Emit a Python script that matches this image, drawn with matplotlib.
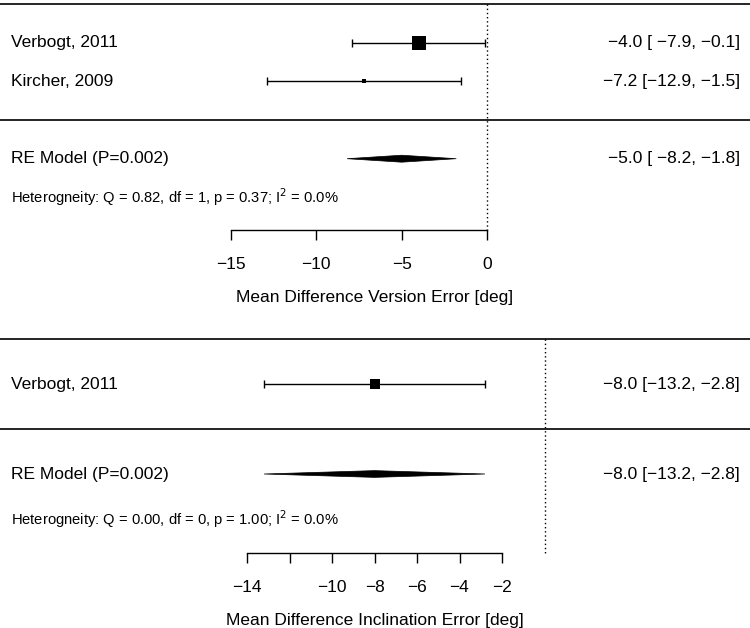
import numpy as np
import matplotlib
matplotlib.use("Agg")
import matplotlib.pyplot as plt

plt.rcParams['font.family'] = ['Liberation Sans', 'DejaVu Sans']

# panel 1: version error
v_studies = ["Verbogt, 2011", "Kircher, 2009"]
v_est = [-4.0, -7.2]
v_lo = [-7.9, -12.9]
v_hi = [-0.1, -1.5]
v_re = (-5.0, -8.2, -1.8)
v_re_label = "RE Model (P=0.002)"
v_het = "Heterogneity: Q = 0.82, df = 1, p = 0.37; I$^2$ = 0.0%"
v_ticks = [-15, -10, -5, 0]
v_tick_labels = ["\u221215", "\u221210", "\u22125", "0"]
v_xlabel = "Mean Difference Version Error [deg]"

# panel 2: inclination error
i_studies = ["Verbogt, 2011"]
i_est = [-8.0]
i_lo = [-13.2]
i_hi = [-2.8]
i_re = (-8.0, -13.2, -2.8)
i_re_label = "RE Model (P=0.002)"
i_het = "Heterogneity: Q = 0.00, df = 0, p = 1.00; I$^2$ = 0.0%"
i_ticks = [-14, -12, -10, -8, -6, -4, -2]
i_tick_labels = ["\u221214", "", "\u221210", "\u22128", "\u22126", "\u22124", "\u22122"]
i_xlabel = "Mean Difference Inclination Error [deg]"

W, H = 750, 628
fig = plt.figure(figsize=(W / 100, H / 100), dpi=100)


def fmt(v):
    return f"{v:.1f}".replace("-", "\u2212")


def ci_text(est, lo, hi, width):
    lo_s = fmt(lo).rjust(width)
    hi_s = fmt(hi).rjust(4)
    return f"{fmt(est)} [{lo_s}, {hi_s}]"


def panel(top_px, bot_px, row0_px, row_px, x0_px, unit_px,
          studies, est, lo, hi, re, re_label, het, ticks, tick_labels,
          xlabel, msizes, axis_row, diam_h):
    ax = fig.add_axes([0, 1 - bot_px / H, 1, (bot_px - top_px) / H])
    ax.set_xlim(-x0_px / unit_px, (W - x0_px) / unit_px)
    ax.set_ylim((row0_px - bot_px) / row_px, (row0_px - top_px) / row_px)
    xl = ax.get_xlim()[0] + 11 / unit_px
    xr = ax.get_xlim()[1] - 10 / unit_px
    k = len(studies)
    rows = np.arange(k, 0, -1)
    width = max(len(fmt(v)) for v in lo)

    ax.axhline(k + 1, color="black", lw=1.2)
    ax.axhline(0, color="black", lw=1.2)
    ax.plot([0, 0], [k + 1, axis_row], color="black", lw=1, ls=(0, (1, 2)))

    for r, name, e, l, h, s in zip(rows, studies, est, lo, hi, msizes):
        ax.errorbar(e, r, xerr=[[e - l], [h - e]], fmt="none", ecolor="black",
                    elinewidth=1, capsize=3, capthick=1)
        ax.plot(e, r, marker="s", color="black", ms=s, mew=0)
        ax.text(xl, r, name, ha="left", va="center", fontsize=12.5)
        ax.text(xr, r, ci_text(e, l, h, width), ha="right", va="center",
                fontsize=12.5)

    e, l, h = re
    ax.fill([l, e, h, e], [-1, -1 + diam_h, -1, -1 - diam_h], color="black",
            lw=0.5, edgecolor="black")
    ax.text(xl, -1, re_label, ha="left", va="center", fontsize=12.5)
    ax.text(xr, -1, ci_text(e, l, h, width), ha="right", va="center",
            fontsize=12.5)
    ax.text(xl, -2, het, ha="left", va="center", fontsize=10.6)

    for sp in ["top", "left", "right"]:
        ax.spines[sp].set_visible(False)
    ax.spines["bottom"].set_position(("data", axis_row))
    ax.spines["bottom"].set_bounds(ticks[0], ticks[-1])
    ax.spines["bottom"].set_linewidth(1)
    ax.set_xticks(ticks)
    ax.set_xticklabels(tick_labels, fontsize=12.5)
    ax.tick_params(axis="x", direction="out", length=7.5, width=1, pad=12)
    ax.set_yticks([])
    ax.set_xlabel(xlabel, fontsize=12.5, labelpad=12.5)
    ax.patch.set_alpha(0)
    return ax


panel(0, 314, 120, 38.7, 487, 256 / 15,
      v_studies, v_est, v_lo, v_hi, v_re, v_re_label, v_het,
      v_ticks, v_tick_labels, v_xlabel,
      [9.5, 3.2], -2.85, 0.09)

panel(314, 628, 429, 45, 544.5, 255 / 12,
      i_studies, i_est, i_lo, i_hi, i_re, i_re_label, i_het,
      i_ticks, i_tick_labels, i_xlabel,
      [6.5], -2.76, 0.075)

fig.savefig("out.png", dpi=100)
